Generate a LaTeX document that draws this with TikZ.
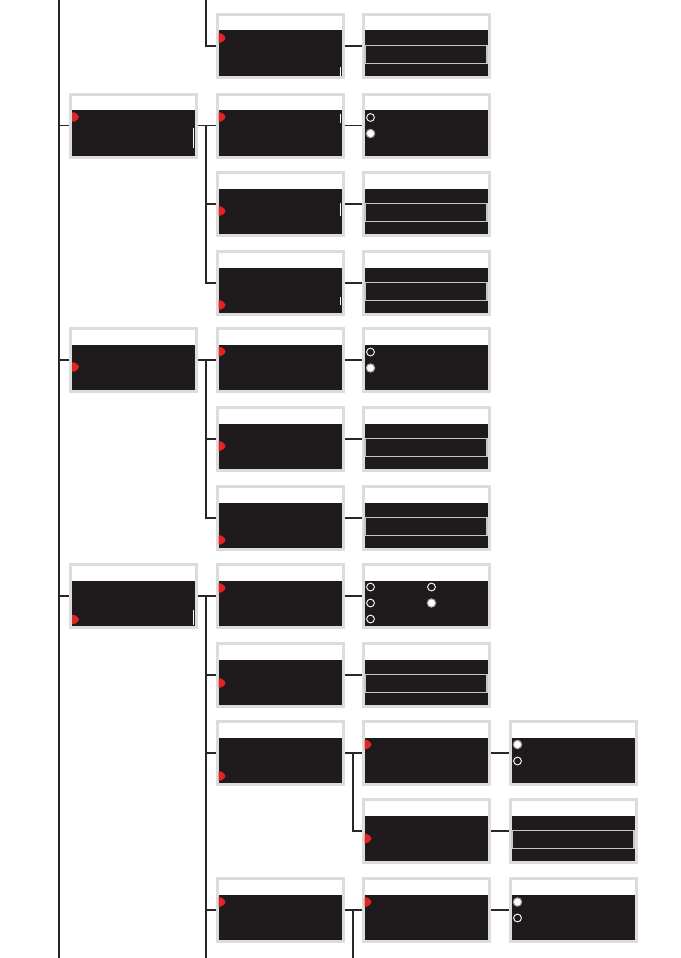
\documentclass[tikz,border=0pt]{standalone}
\usetikzlibrary{calc}
\definecolor{scr}{HTML}{1F1B1C}
\definecolor{frm}{HTML}{DCDCDC}
\definecolor{ln}{HTML}{2A2627}
\definecolor{ptrc}{HTML}{E32422}
\definecolor{selring}{HTML}{A8A8A8}
\newcommand\ptrat[2]{\begin{scope}[shift={(#1.north west)}]\fill[ptrc] (3,#2-4.7) -- (5,#2-4.7) .. controls (8.3,#2-3.2) and (10,#2-1.4) .. (10,#2) .. controls (10,#2+1.4) and (8.3,#2+3.2) .. (5,#2+4.7) -- (3,#2+4.7) -- cycle;\end{scope}}
\newcommand\roff[3]{\begin{scope}[shift={(#1.north west)}]\draw[white,line width=0.9pt] (#2,#3) circle[radius=3.9];\end{scope}}
\newcommand\ron[3]{\begin{scope}[shift={(#1.north west)}]\fill[white] (#2,#3) circle[radius=4.4];\draw[selring,line width=1pt] (#2,#3) circle[radius=4.1];\fill[white] (#2,#3) circle[radius=2.8];\end{scope}}
\newcommand\slidr[1]{\begin{scope}[shift={(#1.north west)}]\draw[gray!45,line width=1.3pt] (3.6,32.6) rectangle (125.4,50.6);\end{scope}}
\newcommand\thumb[3]{\begin{scope}[shift={(#1.north west)}]\draw[white,line width=1pt] (124.6,#2) -- (124.6,#3);\end{scope}}
\begin{document}
\begin{tikzpicture}[x=1pt,y=-1pt,
  screen/.style={rectangle, draw=frm, line width=3pt, fill=white,
    minimum width=126pt, minimum height=63pt, inner sep=0pt, outer sep=1.5pt,
    path picture={\fill[scr] ([yshift=-16pt]path picture bounding box.north west) rectangle (path picture bounding box.south east);}},
  conn/.style={draw=ln, line width=1.8pt},
  thinconn/.style={draw=ln, line width=1.6pt}]
\useasboundingbox (0,0) rectangle (680,958);
\fill[white] (0,0) rectangle (680,958);

% left column
\node[screen] (L1) at (133.5,125.5) {};
\node[screen] (L2) at (133.5,360) {};
\node[screen] (L3) at (133.5,596) {};
% second column
\node[screen] (B1) at (280,46) {};
\node[screen] (B2) at (280,125.5) {};
\node[screen] (B3) at (280,204) {};
\node[screen] (B4) at (280,283) {};
\node[screen] (B5) at (280,360) {};
\node[screen] (B6) at (280,439) {};
\node[screen] (B7) at (280,518) {};
\node[screen] (B8) at (280,596) {};
\node[screen] (B9) at (280,675) {};
\node[screen] (B10) at (280,753) {};
\node[screen] (B12) at (280,910) {};
% third column
\node[screen] (C1) at (426,46) {};
\node[screen] (C2) at (426,125.5) {};
\node[screen] (C3) at (426,204) {};
\node[screen] (C4) at (426,283) {};
\node[screen] (C5) at (426,360) {};
\node[screen] (C6) at (426,439) {};
\node[screen] (C7) at (426,518) {};
\node[screen] (C8) at (426,596) {};
\node[screen] (C9) at (426,675) {};
\node[screen] (C10) at (426,753) {};
\node[screen] (C11) at (426,831) {};
\node[screen] (C12) at (426,910) {};
% fourth column
\node[screen] (D10) at (573,753) {};
\node[screen] (D11) at (573,831) {};
\node[screen] (D12) at (573,910) {};

% pointers
\ptrat{L1}{24.5}\ptrat{L2}{40}\ptrat{L3}{56.5}
\ptrat{B1}{25}\ptrat{B2}{24.5}\ptrat{B3}{40}\ptrat{B4}{55}
\ptrat{B5}{24.5}\ptrat{B6}{40}\ptrat{B7}{55}
\ptrat{B8}{25}\ptrat{B9}{41}\ptrat{B10}{56}\ptrat{B12}{25}
\ptrat{C10}{24.5}\ptrat{C11}{40.5}\ptrat{C12}{25}

% scroll marks
\thumb{L1}{35}{55}\thumb{L3}{47}{62}
\thumb{B1}{54}{63}\thumb{B2}{21}{30}\thumb{B3}{32}{45}\thumb{B4}{47}{55}

% value screens
\slidr{C1}\slidr{C3}\slidr{C4}\slidr{C6}\slidr{C7}\slidr{C9}\slidr{D11}
\roff{C2}{9}{25}\ron{C2}{9}{41}
\roff{C5}{9}{25}\ron{C5}{9}{41}
\roff{C8}{9}{24}\roff{C8}{9}{40}\roff{C8}{9}{56}\roff{C8}{70}{24}\ron{C8}{70}{40}
\ron{D10}{9}{24.5}\roff{D10}{9}{41}
\ron{D12}{9}{25}\roff{D12}{9}{41}

% connectors
\coordinate (mT) at (59,0);
\coordinate (mB) at (59,958);
\coordinate (bT) at (206,0);
\coordinate (bB) at (206,958);
\coordinate (cT) at (353,0);
\coordinate (cB) at (353,958);
\draw[conn] (mT) -- (mB);
\foreach \n in {L1,L2,L3} \draw[conn] (\n.west) -- (\n.west -| mT);
\draw[conn] (bT) |- (B1.west);
\draw[conn] (L1.east) -- (B2.west);
\draw[conn] (bT |- B2.west) |- (B4.west);
\draw[conn] (bT |- B3.west) -- (B3.west);
\draw[conn] (L2.east) -- (B5.west);
\draw[conn] (bT |- B5.west) |- (B7.west);
\draw[conn] (bT |- B6.west) -- (B6.west);
\draw[conn] (L3.east) -- (B8.west);
\draw[conn] (bT |- B8.west) -- (bB);
\foreach \n in {B9,B10,B12} \draw[conn] (bT |- \n.west) -- (\n.west);
\foreach \n in {1,...,10,12} \draw[thinconn] (B\n.east) -- (C\n.west);
\draw[conn] (cT |- B10.east) |- (C11.west);
\draw[conn] (cT |- B12.east) -- (cB);
\foreach \n in {10,11,12} \draw[thinconn] (C\n.east) -- (D\n.west);
\end{tikzpicture}
\end{document}
